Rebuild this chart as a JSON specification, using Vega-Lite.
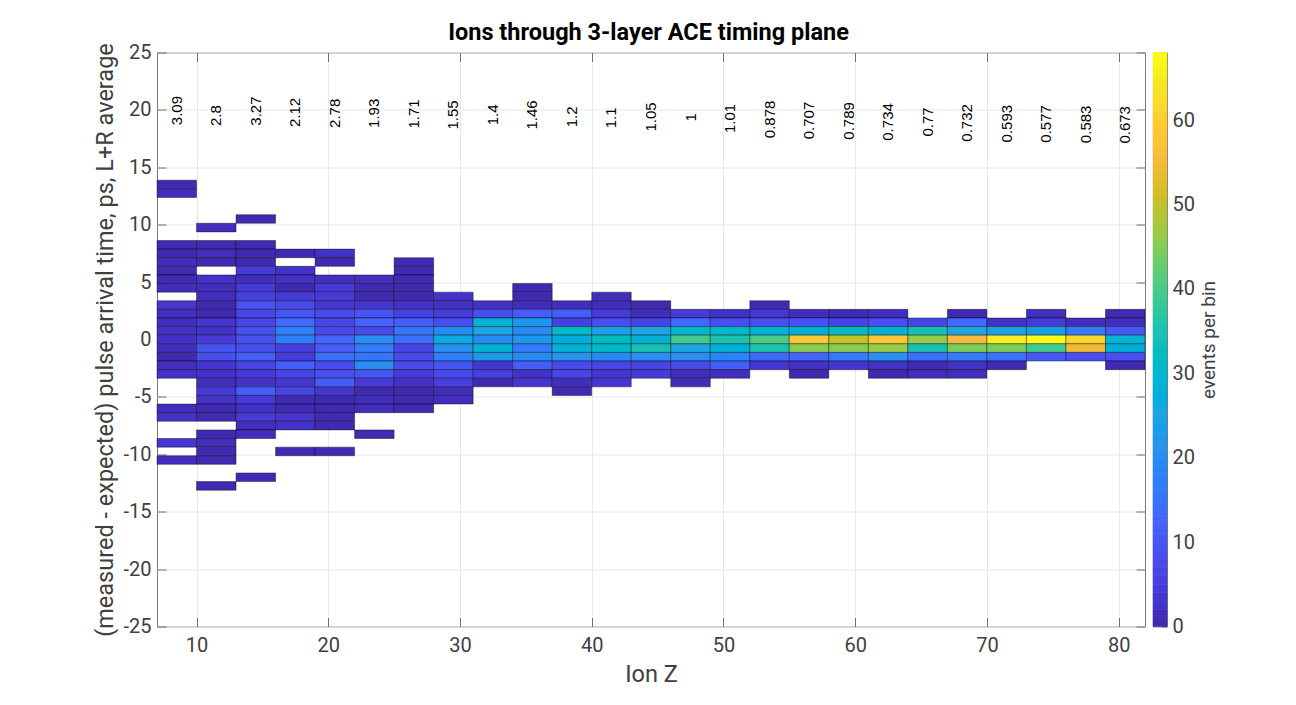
{
  "$schema": "https://vega.github.io/schema/vega-lite/v6.json",
  "background": "white",
  "padding": {"left": 93, "top": 20.5, "right": 20, "bottom": 10},
  "config": {
    "font": "Roboto",
    "view": {"stroke": "#7a7a7a", "strokeWidth": 1},
    "axis": {"labelColor": "#404040", "titleColor": "#404040", "tickColor": "#6e6e6e", "domain": false}
  },
  "spacing": 8,
  "bounds": "flush",
  "datasets": {
    "cells": [
      {"z0":7,"z1":10,"t0":13.125,"t1":13.875,"n":1},{"z0":7,"z1":10,"t0":12.375,"t1":13.125,"n":2},{"z0":7,"z1":10,"t0":7.875,"t1":8.625,"n":1},{"z0":7,"z1":10,"t0":7.125,"t1":7.875,"n":1},{"z0":7,"z1":10,"t0":6.375,"t1":7.125,"n":2},{"z0":7,"z1":10,"t0":5.625,"t1":6.375,"n":1},{"z0":7,"z1":10,"t0":4.875,"t1":5.625,"n":1},{"z0":7,"z1":10,"t0":4.125,"t1":4.875,"n":2},{"z0":7,"z1":10,"t0":2.625,"t1":3.375,"n":4},{"z0":7,"z1":10,"t0":1.875,"t1":2.625,"n":2},{"z0":7,"z1":10,"t0":1.125,"t1":1.875,"n":2},{"z0":7,"z1":10,"t0":0.375,"t1":1.125,"n":3},{"z0":7,"z1":10,"t0":-0.375,"t1":0.375,"n":3},{"z0":7,"z1":10,"t0":-1.125,"t1":-0.375,"n":2},{"z0":7,"z1":10,"t0":-1.875,"t1":-1.125,"n":1},{"z0":7,"z1":10,"t0":-2.625,"t1":-1.875,"n":2},{"z0":7,"z1":10,"t0":-3.375,"t1":-2.625,"n":3},{"z0":7,"z1":10,"t0":-6.375,"t1":-5.625,"n":2},{"z0":7,"z1":10,"t0":-7.125,"t1":-6.375,"n":3},{"z0":7,"z1":10,"t0":-9.375,"t1":-8.625,"n":4},{"z0":7,"z1":10,"t0":-10.875,"t1":-10.125,"n":2},
      {"z0":10,"z1":13,"t0":9.375,"t1":10.125,"n":2},{"z0":10,"z1":13,"t0":7.875,"t1":8.625,"n":1},{"z0":10,"z1":13,"t0":7.125,"t1":7.875,"n":2},{"z0":10,"z1":13,"t0":6.375,"t1":7.125,"n":1},{"z0":10,"z1":13,"t0":4.875,"t1":5.625,"n":3},{"z0":10,"z1":13,"t0":4.125,"t1":4.875,"n":2},{"z0":10,"z1":13,"t0":3.375,"t1":4.125,"n":2},{"z0":10,"z1":13,"t0":2.625,"t1":3.375,"n":1},{"z0":10,"z1":13,"t0":1.875,"t1":2.625,"n":1},{"z0":10,"z1":13,"t0":1.125,"t1":1.875,"n":4},{"z0":10,"z1":13,"t0":0.375,"t1":1.125,"n":3},{"z0":10,"z1":13,"t0":-0.375,"t1":0.375,"n":5},{"z0":10,"z1":13,"t0":-1.125,"t1":-0.375,"n":10},{"z0":10,"z1":13,"t0":-1.875,"t1":-1.125,"n":9},{"z0":10,"z1":13,"t0":-2.625,"t1":-1.875,"n":4},{"z0":10,"z1":13,"t0":-3.375,"t1":-2.625,"n":3},{"z0":10,"z1":13,"t0":-4.125,"t1":-3.375,"n":2},{"z0":10,"z1":13,"t0":-4.875,"t1":-4.125,"n":5},{"z0":10,"z1":13,"t0":-5.625,"t1":-4.875,"n":3},{"z0":10,"z1":13,"t0":-6.375,"t1":-5.625,"n":1},{"z0":10,"z1":13,"t0":-7.125,"t1":-6.375,"n":1},{"z0":10,"z1":13,"t0":-8.625,"t1":-7.875,"n":1},{"z0":10,"z1":13,"t0":-9.375,"t1":-8.625,"n":2},{"z0":10,"z1":13,"t0":-10.125,"t1":-9.375,"n":1},{"z0":10,"z1":13,"t0":-10.875,"t1":-10.125,"n":1},{"z0":10,"z1":13,"t0":-13.125,"t1":-12.375,"n":1},
      {"z0":13,"z1":16,"t0":10.125,"t1":10.875,"n":1},{"z0":13,"z1":16,"t0":7.875,"t1":8.625,"n":1},{"z0":13,"z1":16,"t0":7.125,"t1":7.875,"n":1},{"z0":13,"z1":16,"t0":6.375,"t1":7.125,"n":1},{"z0":13,"z1":16,"t0":5.625,"t1":6.375,"n":5},{"z0":13,"z1":16,"t0":4.875,"t1":5.625,"n":2},{"z0":13,"z1":16,"t0":4.125,"t1":4.875,"n":5},{"z0":13,"z1":16,"t0":3.375,"t1":4.125,"n":6},{"z0":13,"z1":16,"t0":2.625,"t1":3.375,"n":10},{"z0":13,"z1":16,"t0":1.875,"t1":2.625,"n":7},{"z0":13,"z1":16,"t0":1.125,"t1":1.875,"n":7},{"z0":13,"z1":16,"t0":0.375,"t1":1.125,"n":9},{"z0":13,"z1":16,"t0":-0.375,"t1":0.375,"n":9},{"z0":13,"z1":16,"t0":-1.125,"t1":-0.375,"n":9},{"z0":13,"z1":16,"t0":-1.875,"t1":-1.125,"n":12},{"z0":13,"z1":16,"t0":-2.625,"t1":-1.875,"n":7},{"z0":13,"z1":16,"t0":-3.375,"t1":-2.625,"n":5},{"z0":13,"z1":16,"t0":-4.125,"t1":-3.375,"n":3},{"z0":13,"z1":16,"t0":-4.875,"t1":-4.125,"n":12},{"z0":13,"z1":16,"t0":-5.625,"t1":-4.875,"n":5},{"z0":13,"z1":16,"t0":-6.375,"t1":-5.625,"n":3},{"z0":13,"z1":16,"t0":-7.125,"t1":-6.375,"n":5},{"z0":13,"z1":16,"t0":-7.875,"t1":-7.125,"n":2},{"z0":13,"z1":16,"t0":-8.625,"t1":-7.875,"n":2},{"z0":13,"z1":16,"t0":-12.375,"t1":-11.625,"n":1},
      {"z0":16,"z1":19,"t0":7.125,"t1":7.875,"n":1},{"z0":16,"z1":19,"t0":5.625,"t1":6.375,"n":3},{"z0":16,"z1":19,"t0":4.875,"t1":5.625,"n":3},{"z0":16,"z1":19,"t0":4.125,"t1":4.875,"n":1},{"z0":16,"z1":19,"t0":3.375,"t1":4.125,"n":5},{"z0":16,"z1":19,"t0":2.625,"t1":3.375,"n":8},{"z0":16,"z1":19,"t0":1.875,"t1":2.625,"n":10},{"z0":16,"z1":19,"t0":1.125,"t1":1.875,"n":14},{"z0":16,"z1":19,"t0":0.375,"t1":1.125,"n":18},{"z0":16,"z1":19,"t0":-0.375,"t1":0.375,"n":18},{"z0":16,"z1":19,"t0":-1.125,"t1":-0.375,"n":6},{"z0":16,"z1":19,"t0":-1.875,"t1":-1.125,"n":5},{"z0":16,"z1":19,"t0":-2.625,"t1":-1.875,"n":12},{"z0":16,"z1":19,"t0":-3.375,"t1":-2.625,"n":7},{"z0":16,"z1":19,"t0":-4.125,"t1":-3.375,"n":4},{"z0":16,"z1":19,"t0":-4.875,"t1":-4.125,"n":7},{"z0":16,"z1":19,"t0":-5.625,"t1":-4.875,"n":1},{"z0":16,"z1":19,"t0":-6.375,"t1":-5.625,"n":1},{"z0":16,"z1":19,"t0":-7.125,"t1":-6.375,"n":4},{"z0":16,"z1":19,"t0":-7.875,"t1":-7.125,"n":3},{"z0":16,"z1":19,"t0":-10.125,"t1":-9.375,"n":1},
      {"z0":19,"z1":22,"t0":7.125,"t1":7.875,"n":3},{"z0":19,"z1":22,"t0":6.375,"t1":7.125,"n":1},{"z0":19,"z1":22,"t0":4.875,"t1":5.625,"n":2},{"z0":19,"z1":22,"t0":4.125,"t1":4.875,"n":5},{"z0":19,"z1":22,"t0":3.375,"t1":4.125,"n":5},{"z0":19,"z1":22,"t0":2.625,"t1":3.375,"n":4},{"z0":19,"z1":22,"t0":1.875,"t1":2.625,"n":8},{"z0":19,"z1":22,"t0":1.125,"t1":1.875,"n":7},{"z0":19,"z1":22,"t0":0.375,"t1":1.125,"n":8},{"z0":19,"z1":22,"t0":-0.375,"t1":0.375,"n":13},{"z0":19,"z1":22,"t0":-1.125,"t1":-0.375,"n":12},{"z0":19,"z1":22,"t0":-1.875,"t1":-1.125,"n":15},{"z0":19,"z1":22,"t0":-2.625,"t1":-1.875,"n":8},{"z0":19,"z1":22,"t0":-3.375,"t1":-2.625,"n":9},{"z0":19,"z1":22,"t0":-4.125,"t1":-3.375,"n":12},{"z0":19,"z1":22,"t0":-4.875,"t1":-4.125,"n":4},{"z0":19,"z1":22,"t0":-5.625,"t1":-4.875,"n":1},{"z0":19,"z1":22,"t0":-6.375,"t1":-5.625,"n":1},{"z0":19,"z1":22,"t0":-7.125,"t1":-6.375,"n":1},{"z0":19,"z1":22,"t0":-7.875,"t1":-7.125,"n":1},{"z0":19,"z1":22,"t0":-10.125,"t1":-9.375,"n":1},
      {"z0":22,"z1":25,"t0":4.875,"t1":5.625,"n":2},{"z0":22,"z1":25,"t0":4.125,"t1":4.875,"n":1},{"z0":22,"z1":25,"t0":3.375,"t1":4.125,"n":1},{"z0":22,"z1":25,"t0":2.625,"t1":3.375,"n":4},{"z0":22,"z1":25,"t0":1.875,"t1":2.625,"n":10},{"z0":22,"z1":25,"t0":1.125,"t1":1.875,"n":13},{"z0":22,"z1":25,"t0":0.375,"t1":1.125,"n":8},{"z0":22,"z1":25,"t0":-0.375,"t1":0.375,"n":21},{"z0":22,"z1":25,"t0":-1.125,"t1":-0.375,"n":17},{"z0":22,"z1":25,"t0":-1.875,"t1":-1.125,"n":16},{"z0":22,"z1":25,"t0":-2.625,"t1":-1.875,"n":21},{"z0":22,"z1":25,"t0":-3.375,"t1":-2.625,"n":10},{"z0":22,"z1":25,"t0":-4.125,"t1":-3.375,"n":5},{"z0":22,"z1":25,"t0":-4.875,"t1":-4.125,"n":1},{"z0":22,"z1":25,"t0":-5.625,"t1":-4.875,"n":2},{"z0":22,"z1":25,"t0":-6.375,"t1":-5.625,"n":2},{"z0":22,"z1":25,"t0":-8.625,"t1":-7.875,"n":1},
      {"z0":25,"z1":28,"t0":6.375,"t1":7.125,"n":1},{"z0":25,"z1":28,"t0":5.625,"t1":6.375,"n":1},{"z0":25,"z1":28,"t0":4.875,"t1":5.625,"n":1},{"z0":25,"z1":28,"t0":4.125,"t1":4.875,"n":1},{"z0":25,"z1":28,"t0":3.375,"t1":4.125,"n":1},{"z0":25,"z1":28,"t0":2.625,"t1":3.375,"n":3},{"z0":25,"z1":28,"t0":1.875,"t1":2.625,"n":6},{"z0":25,"z1":28,"t0":1.125,"t1":1.875,"n":12},{"z0":25,"z1":28,"t0":0.375,"t1":1.125,"n":16},{"z0":25,"z1":28,"t0":-0.375,"t1":0.375,"n":15},{"z0":25,"z1":28,"t0":-1.125,"t1":-0.375,"n":7},{"z0":25,"z1":28,"t0":-1.875,"t1":-1.125,"n":8},{"z0":25,"z1":28,"t0":-2.625,"t1":-1.875,"n":8},{"z0":25,"z1":28,"t0":-3.375,"t1":-2.625,"n":5},{"z0":25,"z1":28,"t0":-4.125,"t1":-3.375,"n":3},{"z0":25,"z1":28,"t0":-4.875,"t1":-4.125,"n":1},{"z0":25,"z1":28,"t0":-5.625,"t1":-4.875,"n":1},{"z0":25,"z1":28,"t0":-6.375,"t1":-5.625,"n":1},
      {"z0":28,"z1":31,"t0":3.375,"t1":4.125,"n":3},{"z0":28,"z1":31,"t0":2.625,"t1":3.375,"n":3},{"z0":28,"z1":31,"t0":1.875,"t1":2.625,"n":5},{"z0":28,"z1":31,"t0":1.125,"t1":1.875,"n":9},{"z0":28,"z1":31,"t0":0.375,"t1":1.125,"n":20},{"z0":28,"z1":31,"t0":-0.375,"t1":0.375,"n":27},{"z0":28,"z1":31,"t0":-1.125,"t1":-0.375,"n":21},{"z0":28,"z1":31,"t0":-1.875,"t1":-1.125,"n":18},{"z0":28,"z1":31,"t0":-2.625,"t1":-1.875,"n":10},{"z0":28,"z1":31,"t0":-3.375,"t1":-2.625,"n":8},{"z0":28,"z1":31,"t0":-4.125,"t1":-3.375,"n":6},{"z0":28,"z1":31,"t0":-4.875,"t1":-4.125,"n":2},{"z0":28,"z1":31,"t0":-5.625,"t1":-4.875,"n":2},
      {"z0":31,"z1":34,"t0":2.625,"t1":3.375,"n":3},{"z0":31,"z1":34,"t0":1.875,"t1":2.625,"n":9},{"z0":31,"z1":34,"t0":1.125,"t1":1.875,"n":30},{"z0":31,"z1":34,"t0":0.375,"t1":1.125,"n":26},{"z0":31,"z1":34,"t0":-0.375,"t1":0.375,"n":20},{"z0":31,"z1":34,"t0":-1.125,"t1":-0.375,"n":30},{"z0":31,"z1":34,"t0":-1.875,"t1":-1.125,"n":23},{"z0":31,"z1":34,"t0":-2.625,"t1":-1.875,"n":4},{"z0":31,"z1":34,"t0":-3.375,"t1":-2.625,"n":6},{"z0":31,"z1":34,"t0":-4.125,"t1":-3.375,"n":1},
      {"z0":34,"z1":37,"t0":4.125,"t1":4.875,"n":1},{"z0":34,"z1":37,"t0":3.375,"t1":4.125,"n":1},{"z0":34,"z1":37,"t0":2.625,"t1":3.375,"n":2},{"z0":34,"z1":37,"t0":1.875,"t1":2.625,"n":12},{"z0":34,"z1":37,"t0":1.125,"t1":1.875,"n":23},{"z0":34,"z1":37,"t0":0.375,"t1":1.125,"n":20},{"z0":34,"z1":37,"t0":-0.375,"t1":0.375,"n":23},{"z0":34,"z1":37,"t0":-1.125,"t1":-0.375,"n":17},{"z0":34,"z1":37,"t0":-1.875,"t1":-1.125,"n":20},{"z0":34,"z1":37,"t0":-2.625,"t1":-1.875,"n":12},{"z0":34,"z1":37,"t0":-3.375,"t1":-2.625,"n":3},{"z0":34,"z1":37,"t0":-4.125,"t1":-3.375,"n":4},
      {"z0":37,"z1":40,"t0":2.625,"t1":3.375,"n":2},{"z0":37,"z1":40,"t0":1.875,"t1":2.625,"n":12},{"z0":37,"z1":40,"t0":1.125,"t1":1.875,"n":6},{"z0":37,"z1":40,"t0":0.375,"t1":1.125,"n":32},{"z0":37,"z1":40,"t0":-0.375,"t1":0.375,"n":28},{"z0":37,"z1":40,"t0":-1.125,"t1":-0.375,"n":29},{"z0":37,"z1":40,"t0":-1.875,"t1":-1.125,"n":22},{"z0":37,"z1":40,"t0":-2.625,"t1":-1.875,"n":8},{"z0":37,"z1":40,"t0":-3.375,"t1":-2.625,"n":7},{"z0":37,"z1":40,"t0":-4.125,"t1":-3.375,"n":2},{"z0":37,"z1":40,"t0":-4.875,"t1":-4.125,"n":1},
      {"z0":40,"z1":43,"t0":3.375,"t1":4.125,"n":2},{"z0":40,"z1":43,"t0":2.625,"t1":3.375,"n":2},{"z0":40,"z1":43,"t0":1.875,"t1":2.625,"n":5},{"z0":40,"z1":43,"t0":1.125,"t1":1.875,"n":9},{"z0":40,"z1":43,"t0":0.375,"t1":1.125,"n":25},{"z0":40,"z1":43,"t0":-0.375,"t1":0.375,"n":33},{"z0":40,"z1":43,"t0":-1.125,"t1":-0.375,"n":32},{"z0":40,"z1":43,"t0":-1.875,"t1":-1.125,"n":20},{"z0":40,"z1":43,"t0":-2.625,"t1":-1.875,"n":7},{"z0":40,"z1":43,"t0":-3.375,"t1":-2.625,"n":4},{"z0":40,"z1":43,"t0":-4.125,"t1":-3.375,"n":4},
      {"z0":43,"z1":46,"t0":2.625,"t1":3.375,"n":1},{"z0":43,"z1":46,"t0":1.875,"t1":2.625,"n":2},{"z0":43,"z1":46,"t0":1.125,"t1":1.875,"n":7},{"z0":43,"z1":46,"t0":0.375,"t1":1.125,"n":26},{"z0":43,"z1":46,"t0":-0.375,"t1":0.375,"n":29},{"z0":43,"z1":46,"t0":-1.125,"t1":-0.375,"n":35},{"z0":43,"z1":46,"t0":-1.875,"t1":-1.125,"n":21},{"z0":43,"z1":46,"t0":-2.625,"t1":-1.875,"n":7},{"z0":43,"z1":46,"t0":-3.375,"t1":-2.625,"n":5},
      {"z0":46,"z1":49,"t0":1.875,"t1":2.625,"n":5},{"z0":46,"z1":49,"t0":1.125,"t1":1.875,"n":14},{"z0":46,"z1":49,"t0":0.375,"t1":1.125,"n":31},{"z0":46,"z1":49,"t0":-0.375,"t1":0.375,"n":40},{"z0":46,"z1":49,"t0":-1.125,"t1":-0.375,"n":26},{"z0":46,"z1":49,"t0":-1.875,"t1":-1.125,"n":21},{"z0":46,"z1":49,"t0":-2.625,"t1":-1.875,"n":8},{"z0":46,"z1":49,"t0":-3.375,"t1":-2.625,"n":2},{"z0":46,"z1":49,"t0":-4.125,"t1":-3.375,"n":2},
      {"z0":49,"z1":52,"t0":1.875,"t1":2.625,"n":3},{"z0":49,"z1":52,"t0":1.125,"t1":1.875,"n":9},{"z0":49,"z1":52,"t0":0.375,"t1":1.125,"n":31},{"z0":49,"z1":52,"t0":-0.375,"t1":0.375,"n":36},{"z0":49,"z1":52,"t0":-1.125,"t1":-0.375,"n":29},{"z0":49,"z1":52,"t0":-1.875,"t1":-1.125,"n":19},{"z0":49,"z1":52,"t0":-2.625,"t1":-1.875,"n":12},{"z0":49,"z1":52,"t0":-3.375,"t1":-2.625,"n":2},
      {"z0":52,"z1":55,"t0":2.625,"t1":3.375,"n":1},{"z0":52,"z1":55,"t0":1.875,"t1":2.625,"n":4},{"z0":52,"z1":55,"t0":1.125,"t1":1.875,"n":9},{"z0":52,"z1":55,"t0":0.375,"t1":1.125,"n":29},{"z0":52,"z1":55,"t0":-0.375,"t1":0.375,"n":41},{"z0":52,"z1":55,"t0":-1.125,"t1":-0.375,"n":36},{"z0":52,"z1":55,"t0":-1.875,"t1":-1.125,"n":14},{"z0":52,"z1":55,"t0":-2.625,"t1":-1.875,"n":4},
      {"z0":55,"z1":58,"t0":1.875,"t1":2.625,"n":2},{"z0":55,"z1":58,"t0":1.125,"t1":1.875,"n":10},{"z0":55,"z1":58,"t0":0.375,"t1":1.125,"n":29},{"z0":55,"z1":58,"t0":-0.375,"t1":0.375,"n":59},{"z0":55,"z1":58,"t0":-1.125,"t1":-0.375,"n":46},{"z0":55,"z1":58,"t0":-1.875,"t1":-1.125,"n":13},{"z0":55,"z1":58,"t0":-2.625,"t1":-1.875,"n":3},{"z0":55,"z1":58,"t0":-3.375,"t1":-2.625,"n":1},
      {"z0":58,"z1":61,"t0":1.875,"t1":2.625,"n":1},{"z0":58,"z1":61,"t0":1.125,"t1":1.875,"n":7},{"z0":58,"z1":61,"t0":0.375,"t1":1.125,"n":33},{"z0":58,"z1":61,"t0":-0.375,"t1":0.375,"n":51},{"z0":58,"z1":61,"t0":-1.125,"t1":-0.375,"n":46},{"z0":58,"z1":61,"t0":-1.875,"t1":-1.125,"n":17},{"z0":58,"z1":61,"t0":-2.625,"t1":-1.875,"n":4},
      {"z0":61,"z1":64,"t0":1.875,"t1":2.625,"n":2},{"z0":61,"z1":64,"t0":1.125,"t1":1.875,"n":9},{"z0":61,"z1":64,"t0":0.375,"t1":1.125,"n":29},{"z0":61,"z1":64,"t0":-0.375,"t1":0.375,"n":59},{"z0":61,"z1":64,"t0":-1.125,"t1":-0.375,"n":47},{"z0":61,"z1":64,"t0":-1.875,"t1":-1.125,"n":21},{"z0":61,"z1":64,"t0":-2.625,"t1":-1.875,"n":3},{"z0":61,"z1":64,"t0":-3.375,"t1":-2.625,"n":1},
      {"z0":64,"z1":67,"t0":1.125,"t1":1.875,"n":7},{"z0":64,"z1":67,"t0":0.375,"t1":1.125,"n":35},{"z0":64,"z1":67,"t0":-0.375,"t1":0.375,"n":47},{"z0":64,"z1":67,"t0":-1.125,"t1":-0.375,"n":35},{"z0":64,"z1":67,"t0":-1.875,"t1":-1.125,"n":15},{"z0":64,"z1":67,"t0":-2.625,"t1":-1.875,"n":1},{"z0":64,"z1":67,"t0":-3.375,"t1":-2.625,"n":2},
      {"z0":67,"z1":70,"t0":1.875,"t1":2.625,"n":1},{"z0":67,"z1":70,"t0":1.125,"t1":1.875,"n":14},{"z0":67,"z1":70,"t0":0.375,"t1":1.125,"n":26},{"z0":67,"z1":70,"t0":-0.375,"t1":0.375,"n":56},{"z0":67,"z1":70,"t0":-1.125,"t1":-0.375,"n":45},{"z0":67,"z1":70,"t0":-1.875,"t1":-1.125,"n":17},{"z0":67,"z1":70,"t0":-2.625,"t1":-1.875,"n":3},{"z0":67,"z1":70,"t0":-3.375,"t1":-2.625,"n":2},
      {"z0":70,"z1":73,"t0":1.125,"t1":1.875,"n":3},{"z0":70,"z1":73,"t0":0.375,"t1":1.125,"n":25},{"z0":70,"z1":73,"t0":-0.375,"t1":0.375,"n":66},{"z0":70,"z1":73,"t0":-1.125,"t1":-0.375,"n":45},{"z0":70,"z1":73,"t0":-1.875,"t1":-1.125,"n":15},{"z0":70,"z1":73,"t0":-2.625,"t1":-1.875,"n":1},
      {"z0":73,"z1":76,"t0":1.875,"t1":2.625,"n":2},{"z0":73,"z1":76,"t0":1.125,"t1":1.875,"n":5},{"z0":73,"z1":76,"t0":0.375,"t1":1.125,"n":24},{"z0":73,"z1":76,"t0":-0.375,"t1":0.375,"n":68},{"z0":73,"z1":76,"t0":-1.125,"t1":-0.375,"n":40},{"z0":73,"z1":76,"t0":-1.875,"t1":-1.125,"n":11},
      {"z0":76,"z1":79,"t0":1.125,"t1":1.875,"n":2},{"z0":76,"z1":79,"t0":0.375,"t1":1.125,"n":17},{"z0":76,"z1":79,"t0":-0.375,"t1":0.375,"n":62},{"z0":76,"z1":79,"t0":-1.125,"t1":-0.375,"n":55},{"z0":76,"z1":79,"t0":-1.875,"t1":-1.125,"n":9},
      {"z0":79,"z1":82,"t0":1.875,"t1":2.625,"n":1},{"z0":79,"z1":82,"t0":1.125,"t1":1.875,"n":2},{"z0":79,"z1":82,"t0":0.375,"t1":1.125,"n":11},{"z0":79,"z1":82,"t0":-0.375,"t1":0.375,"n":30},{"z0":79,"z1":82,"t0":-1.125,"t1":-0.375,"n":28},{"z0":79,"z1":82,"t0":-1.875,"t1":-1.125,"n":9},{"z0":79,"z1":82,"t0":-2.625,"t1":-1.875,"n":1}
    ],
    "spreads": [
      {"z":8.5,"t":19.94,"s":"3.09"},{"z":11.5,"t":19.5,"s":"2.8"},{"z":14.5,"t":19.9,"s":"3.27"},{"z":17.5,"t":19.78,"s":"2.12"},{"z":20.5,"t":19.7,"s":"2.78"},
      {"z":23.5,"t":19.7,"s":"1.93"},{"z":26.5,"t":19.65,"s":"1.71"},{"z":29.5,"t":19.56,"s":"1.55"},{"z":32.5,"t":19.56,"s":"1.4"},{"z":35.5,"t":19.56,"s":"1.46"},
      {"z":38.5,"t":19.39,"s":"1.2"},{"z":41.5,"t":19.3,"s":"1.1"},{"z":44.5,"t":19.39,"s":"1.05"},{"z":47.5,"t":19.35,"s":"1"},{"z":50.5,"t":19.26,"s":"1.01"},
      {"z":53.5,"t":19.17,"s":"0.878"},{"z":56.5,"t":19.08,"s":"0.707"},{"z":59.5,"t":19.04,"s":"0.789"},{"z":62.5,"t":18.95,"s":"0.734"},{"z":65.5,"t":18.95,"s":"0.77"},
      {"z":68.5,"t":18.87,"s":"0.732"},{"z":71.5,"t":18.8,"s":"0.593"},{"z":74.5,"t":18.78,"s":"0.577"},{"z":77.5,"t":18.74,"s":"0.583"},{"z":80.5,"t":18.7,"s":"0.673"}
    ],
    "bar": [
      {"a":0,"b":1},{"a":1,"b":2},{"a":2,"b":3},{"a":3,"b":4},{"a":4,"b":5},{"a":5,"b":6},{"a":6,"b":7},{"a":7,"b":8},{"a":8,"b":9},{"a":9,"b":10},
      {"a":10,"b":11},{"a":11,"b":12},{"a":12,"b":13},{"a":13,"b":14},{"a":14,"b":15},{"a":15,"b":16},{"a":16,"b":17},{"a":17,"b":18},{"a":18,"b":19},{"a":19,"b":20},
      {"a":20,"b":21},{"a":21,"b":22},{"a":22,"b":23},{"a":23,"b":24},{"a":24,"b":25},{"a":25,"b":26},{"a":26,"b":27},{"a":27,"b":28},{"a":28,"b":29},{"a":29,"b":30},
      {"a":30,"b":31},{"a":31,"b":32},{"a":32,"b":33},{"a":33,"b":34},{"a":34,"b":35},{"a":35,"b":36},{"a":36,"b":37},{"a":37,"b":38},{"a":38,"b":39},{"a":39,"b":40},
      {"a":40,"b":41},{"a":41,"b":42},{"a":42,"b":43},{"a":43,"b":44},{"a":44,"b":45},{"a":45,"b":46},{"a":46,"b":47},{"a":47,"b":48},{"a":48,"b":49},{"a":49,"b":50},
      {"a":50,"b":51},{"a":51,"b":52},{"a":52,"b":53},{"a":53,"b":54},{"a":54,"b":55},{"a":55,"b":56},{"a":56,"b":57},{"a":57,"b":58},{"a":58,"b":59},{"a":59,"b":60},
      {"a":60,"b":61},{"a":61,"b":62},{"a":62,"b":63},{"a":63,"b":64},{"a":64,"b":65},{"a":65,"b":66},{"a":66,"b":67},{"a":67,"b":68}
    ]
  },
  "hconcat": [
    {
      "title": {"text": "Ions through 3-layer ACE timing plane", "font": "Roboto", "fontSize": 23.5, "fontWeight": "bold", "color": "#000000", "anchor": "middle", "offset": -2, "dx": -2.5},
      "width": 988,
      "height": 574,
      "resolve": {"axis": {"x": "independent", "y": "independent"}},
      "layer": [
        {
          "data": {"name": "cells"},
          "mark": {"type": "rect", "stroke": "#000000", "strokeOpacity": 0.4, "strokeWidth": 1},
          "encoding": {
            "x": {"field": "z0", "type": "quantitative", "scale": {"domain": [7, 82], "nice": false, "zero": false},
              "axis": {"title": "Ion Z", "titleFontSize": 23.5, "titleFontWeight": "normal", "titlePadding": 6.5, "labelFontSize": 20, "labelPadding": 18, "labelFlush": false, "values": [10, 20, 30, 40, 50, 60, 70, 80], "tickSize": -9, "gridColor": "#e8e8e8", "grid": true}},
            "x2": {"field": "z1"},
            "y": {"field": "t0", "type": "quantitative", "scale": {"domain": [-25, 25], "nice": false, "zero": false},
              "axis": {"title": "(measured - expected) pulse arrival time, ps, L+R average", "titleFontSize": 23.5, "titleFontWeight": "normal", "titlePadding": 5, "labelFontSize": 20, "labelPadding": 15, "labelExpr": "replace(datum.label, '\u2212', '-')", "values": [-25, -20, -15, -10, -5, 0, 5, 10, 15, 20, 25], "tickSize": -9, "gridColor": "#e8e8e8", "grid": true}},
            "y2": {"field": "t1"},
            "color": {"field": "n", "type": "quantitative", "legend": null,
              "scale": {"domain": [0, 4.32, 8.63, 12.95, 17.27, 21.59, 25.9, 30.22, 34.54, 38.86, 43.17, 47.49, 51.81, 56.13, 60.44, 64.76, 68],
                "range": ["#3e26a8", "#4537d5", "#484df0", "#4563fd", "#327cfc", "#2b91ef", "#20a5e3", "#08b5d0", "#19bfb6", "#37c897", "#64cd6f", "#9dc943", "#d1bf27", "#f8ba3d", "#fcce2f", "#f5e724", "#f9fb15"]}}
          }
        },
        {
          "data": {"name": "spreads"},
          "mark": {"type": "text", "font": "Liberation Sans", "fontSize": 15, "angle": 270, "align": "center", "baseline": "middle", "color": "#000000"},
          "encoding": {
            "x": {"field": "z", "type": "quantitative", "scale": {"domain": [7, 82], "nice": false, "zero": false},
              "axis": {"orient": "top", "title": null, "labels": false, "grid": false, "values": [10, 20, 30, 40, 50, 60, 70, 80], "tickSize": -9}},
            "y": {"field": "t", "type": "quantitative", "scale": {"domain": [-25, 25], "nice": false, "zero": false},
              "axis": {"orient": "right", "title": null, "labels": false, "grid": false, "values": [-25, -20, -15, -10, -5, 0, 5, 10, 15, 20, 25], "tickSize": -9}},
            "text": {"field": "s", "type": "nominal"}
          }
        }
      ]
    },
    {
      "data": {"name": "bar"},
      "width": 14,
      "height": 574,
      "mark": {"type": "rect", "strokeWidth": 0.6},
      "encoding": {
        "y": {"field": "a", "type": "quantitative", "scale": {"domain": [0, 68], "nice": false, "zero": false},
          "axis": {"orient": "right", "title": "events per bin", "titleFontSize": 19, "titleFontWeight": "normal", "titleAngle": 270, "titlePadding": 24, "labelFontSize": 20, "labelPadding": 10, "values": [0, 10, 20, 30, 40, 50, 60], "tickSize": -5, "grid": false, "labelFlush": false}},
        "y2": {"field": "b"},
        "color": {"field": "b", "type": "quantitative", "legend": null,
          "scale": {"domain": [0, 4.32, 8.63, 12.95, 17.27, 21.59, 25.9, 30.22, 34.54, 38.86, 43.17, 47.49, 51.81, 56.13, 60.44, 64.76, 68],
            "range": ["#3e26a8", "#4537d5", "#484df0", "#4563fd", "#327cfc", "#2b91ef", "#20a5e3", "#08b5d0", "#19bfb6", "#37c897", "#64cd6f", "#9dc943", "#d1bf27", "#f8ba3d", "#fcce2f", "#f5e724", "#f9fb15"]}},
        "stroke": {"field": "b", "type": "quantitative", "legend": null,
          "scale": {"domain": [0, 4.32, 8.63, 12.95, 17.27, 21.59, 25.9, 30.22, 34.54, 38.86, 43.17, 47.49, 51.81, 56.13, 60.44, 64.76, 68],
            "range": ["#3e26a8", "#4537d5", "#484df0", "#4563fd", "#327cfc", "#2b91ef", "#20a5e3", "#08b5d0", "#19bfb6", "#37c897", "#64cd6f", "#9dc943", "#d1bf27", "#f8ba3d", "#fcce2f", "#f5e724", "#f9fb15"]}}
      }
    }
  ]
}
